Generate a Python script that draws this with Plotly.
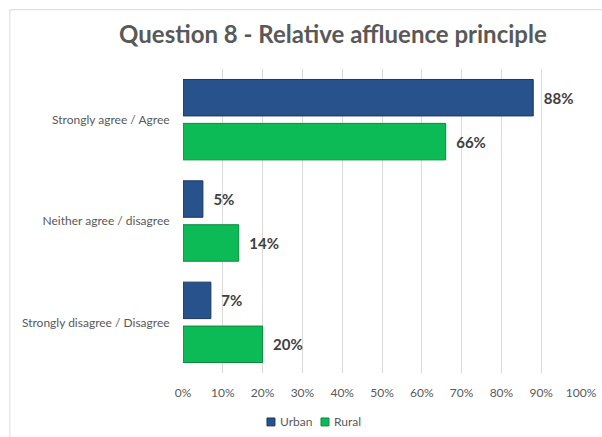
import plotly.graph_objects as go

# Survey responses (percent of respondents)
categories = ["Strongly agree / Agree", "Neither agree / disagree", "Strongly disagree / Disagree"]
urban = [88, 5, 7]
rural = [66, 14, 20]
x_ticks = list(range(0, 101, 10))
x_tick_text = [f"{v}%" for v in x_ticks]

FONT = "Lato, 'Open Sans', sans-serif"

series = [
    dict(name="Urban", values=urban, fill="#28528c", edge="#1a3760"),
    dict(name="Rural", values=rural, fill="#0cbb55", edge="#078a3c"),
]

fig = go.Figure()
for s in series:
    fig.add_trace(go.Bar(
        y=categories, x=s["values"], orientation="h", name=s["name"],
        marker=dict(color=s["fill"], line=dict(color=s["edge"], width=1)),
        texttemplate="\u2002%{x:.0f}%", textposition="outside",
        textfont=dict(family=FONT, size=15, color="#404040", weight="bold"),
        cliponaxis=False, showlegend=False,
    ))

# Compact legend below the axis: a small swatch followed by the series name
legend_shapes = []
legend_notes = []
swatch_x = [0.211, 0.3467]
for s, x0 in zip(series, swatch_x):
    legend_shapes.append(dict(
        type="rect", xref="paper", yref="paper",
        x0=x0, x1=x0 + 0.02, y0=-0.174, y1=-0.148,
        fillcolor=s["fill"], line=dict(color=s["edge"], width=1),
    ))
    legend_notes.append(dict(
        text=s["name"], xref="paper", yref="paper",
        x=x0 + 0.027, y=-0.161, xanchor="left", yanchor="middle",
        showarrow=False, font=dict(family=FONT, size=12, color="#595959"),
    ))

fig.update_layout(
    width=602, height=437,
    margin=dict(l=183, r=21, t=68.5, b=64),
    paper_bgcolor="white", plot_bgcolor="white",
    barmode="group", bargap=0.133, bargroupgap=0.17,
    title=dict(text="<b>Question 8 - Relative affluence principle</b>",
               x=0.553, xanchor="center", y=0.92, yanchor="middle",
               font=dict(family=FONT, size=24, color="#595959")),
    font=dict(family=FONT, color="#595959"),
    xaxis=dict(range=[0, 100], tickvals=x_ticks, ticktext=x_tick_text,
               showgrid=True, gridcolor="#d9d9d9", gridwidth=1,
               zeroline=False, showline=False, automargin=False,
               ticks="outside", ticklen=9, tickcolor="white",
               tickfont=dict(family=FONT, size=12, color="#595959")),
    yaxis=dict(autorange="reversed", showgrid=False, showline=False,
               automargin=False,
               ticks="outside", ticklen=10, tickcolor="white",
               tickfont=dict(family=FONT, size=12, color="#595959")),
    showlegend=False,
    annotations=legend_notes,
    shapes=[dict(type="rect", xref="paper", yref="paper",
                 x0=-0.435, x1=1.2, y0=-0.4, y1=1.195,
                 line=dict(color="#d9d9d9", width=1), layer="below")] + legend_shapes,
)

fig.write_html("out.html")
